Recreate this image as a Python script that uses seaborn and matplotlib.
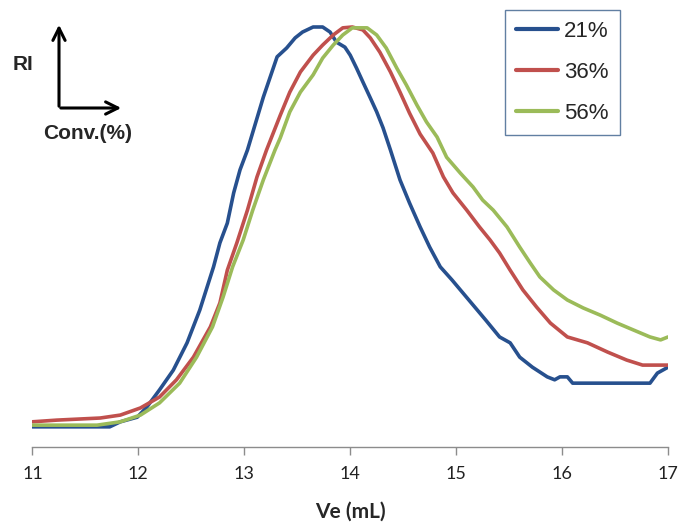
import matplotlib
matplotlib.use("Agg")
import matplotlib.pyplot as plt
import seaborn as sns
import pandas as pd

# ---- data ----
x_21 = [11.0, 11.73, 11.83, 11.99, 12.08, 12.20, 12.33, 12.46, 12.58, 12.71, 12.77, 12.84, 12.90,
        12.96, 13.03, 13.18, 13.31, 13.40, 13.48, 13.55, 13.65, 13.74, 13.81, 13.87, 13.95, 14.00,
        14.06, 14.12, 14.19, 14.25, 14.31, 14.38, 14.47, 14.56, 14.66, 14.75, 14.85, 14.96, 15.12,
        15.28, 15.41, 15.51, 15.60, 15.72, 15.86, 15.93, 15.98, 16.05, 16.10, 16.83, 16.90, 17.0]
y_21 = [4.8, 4.8, 6.0, 7.1, 9.5, 13.6, 18.3, 24.8, 32.6, 42.9, 48.6, 53.3, 60.5,
        66.0, 70.7, 83.3, 92.9, 95.0, 97.4, 98.8, 100.0, 100.0, 98.8, 96.4, 95.2, 93.3,
        90.2, 86.9, 83.1, 79.8, 76.0, 70.7, 63.6, 58.1, 52.4, 47.6, 42.9, 39.8, 35.0,
        30.2, 26.2, 24.8, 21.4, 19.0, 16.7, 16.0, 16.7, 16.7, 15.2, 15.2, 17.6, 19.0]

x_36 = [11.0, 11.23, 11.64, 11.83, 12.02, 12.20, 12.36, 12.52, 12.68, 12.77, 12.84, 12.93, 13.03,
        13.12, 13.21, 13.34, 13.43, 13.53, 13.65, 13.74, 13.84, 13.93, 14.02, 14.12, 14.19, 14.28,
        14.38, 14.47, 14.56, 14.66, 14.78, 14.88, 14.97, 15.10, 15.22, 15.32, 15.41, 15.51, 15.63,
        15.76, 15.89, 16.05, 16.24, 16.43, 16.61, 16.76, 17.0]
y_36 = [6.0, 6.4, 6.9, 7.6, 9.3, 11.9, 16.0, 21.4, 28.6, 34.3, 42.1, 48.6, 56.4,
        64.3, 70.7, 79.0, 84.5, 89.3, 93.3, 95.7, 98.1, 99.8, 100.0, 99.3, 97.4, 94.0,
        89.3, 84.5, 79.5, 74.5, 70.0, 64.3, 60.5, 56.4, 52.4, 49.3, 46.2, 42.1, 37.4,
        33.3, 29.5, 26.2, 24.8, 22.6, 20.7, 19.5, 19.5]

x_56 = [11.0, 11.61, 11.83, 12.02, 12.20, 12.39, 12.55, 12.70, 12.80, 12.89, 12.99, 13.08, 13.18,
        13.29, 13.34, 13.43, 13.53, 13.65, 13.74, 13.84, 13.93, 14.02, 14.16, 14.25, 14.34, 14.44,
        14.53, 14.63, 14.72, 14.82, 14.91, 15.04, 15.16, 15.25, 15.35, 15.48, 15.60, 15.70, 15.79,
        15.92, 16.05, 16.20, 16.36, 16.52, 16.67, 16.83, 16.93, 17.0]
y_56 = [5.2, 5.2, 6.0, 7.6, 10.5, 15.2, 21.4, 28.6, 35.7, 42.9, 49.3, 56.4, 63.6,
        70.7, 73.6, 79.8, 84.5, 88.6, 92.6, 95.7, 98.1, 99.8, 99.8, 98.1, 95.0, 90.2,
        86.2, 81.4, 77.4, 73.8, 69.0, 65.2, 61.9, 58.8, 56.4, 52.4, 47.6, 43.8, 40.5,
        37.4, 35.0, 33.1, 31.4, 29.5, 27.9, 26.2, 25.5, 26.2]

series_labels = ["21%", "36%", "56%"]
x_ticks = [11, 12, 13, 14, 15, 16, 17]
colors = ["#27508E", "#C0504D", "#9BBB59"]

frames = []
for lab, xs, ys in zip(series_labels, [x_21, x_36, x_56], [y_21, y_36, y_56]):
    frames.append(pd.DataFrame({"Ve": xs, "RI": ys, "conv": lab}))
df = pd.concat(frames, ignore_index=True)

sns.set_style("white")
plt.rcParams["font.family"] = ["Liberation Sans", "DejaVu Sans"]

W, H = 678, 525
fig = plt.figure(figsize=(W / 100, H / 100), dpi=100)
ax = fig.add_axes([32.4 / W, (H - 447) / H, (668 - 32.4) / W, (447 - 12) / H])

sns.lineplot(data=df, x="Ve", y="RI", hue="conv", palette=colors, estimator=None,
             sort=False, linewidth=2.6, ax=ax)

ax.set_xlim(11, 17)
ax.set_ylim(0, (447 - 12) / 4.2)
ax.set_xticks(x_ticks)
ax.set_xticklabels([str(t) for t in x_ticks], fontfamily="Lato", fontsize=13, color="#222222")
ax.set_yticks([])
ax.set_ylabel("")
ax.set_xlabel("Ve (mL)", fontsize=15, fontweight="bold", fontfamily="Lato", labelpad=14)
for s in ["top", "right", "left"]:
    ax.spines[s].set_visible(False)
ax.spines["bottom"].set_color("#8C8C8C")
ax.spines["bottom"].set_linewidth(1.0)
ax.tick_params(axis="x", direction="out", length=6, width=1.0, color="#8C8C8C", pad=8, bottom=True)

# legend
handles, labels = ax.get_legend_handles_labels()
leg = ax.legend(handles, labels, loc="upper left", bbox_to_anchor=(505 / W, 1 - 10 / H),
                bbox_transform=fig.transFigure, fontsize=16, frameon=True, fancybox=False,
                handlelength=1.9, handletextpad=0.25, labelspacing=0.9, borderpad=0.5,
                borderaxespad=0.0)
leg.get_frame().set_edgecolor("#3A5F8B")
leg.get_frame().set_linewidth(1.0)
for line in leg.get_lines():
    line.set_linewidth(3.0)
    line.set_solid_capstyle("round")

# RI / Conv. arrows annotation
ox, oy = 59, H - 108
ax.annotate("", xy=(ox, H - 22), xytext=(ox, oy - 1), xycoords="figure pixels",
            textcoords="figure pixels",
            arrowprops=dict(arrowstyle="->", lw=2.2, color="black", mutation_scale=22))
ax.annotate("", xy=(124, oy), xytext=(ox - 1, oy), xycoords="figure pixels",
            textcoords="figure pixels",
            arrowprops=dict(arrowstyle="->", lw=2.2, color="black", mutation_scale=22))
fig.text(13 / W, 1 - 64 / H, "RI", fontsize=15, fontweight="bold", va="center", ha="left")
fig.text(43 / W, 1 - 133 / H, "Conv.(%)", fontsize=15, fontweight="bold", va="center", ha="left")

fig.savefig("out.png", dpi=100)
